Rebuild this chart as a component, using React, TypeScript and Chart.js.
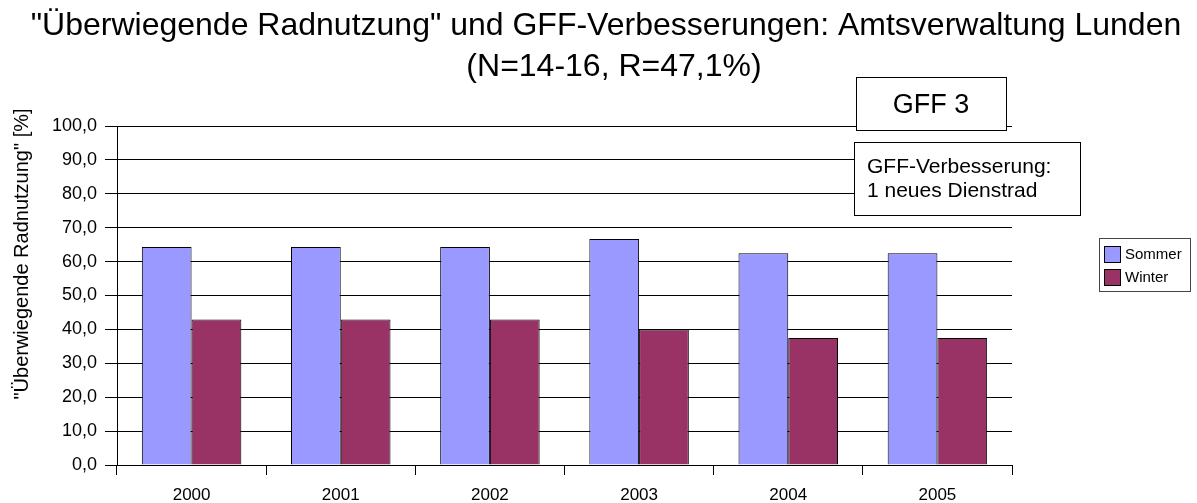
import React, { useEffect, useRef } from "react";
import { Chart, registerables } from "chart.js";

Chart.register(...registerables);

const years = ["2000", "2001", "2002", "2003", "2004", "2005"];
const sommer = [64.3, 64.3, 64.3, 66.7, 62.5, 62.5];
const winter = [42.9, 42.9, 42.9, 40.0, 37.5, 37.5];
const seriesNames = ["Sommer", "Winter"];
const seriesColors = ["#9999FF", "#993366"];
const titleLines = [
  "\"Überwiegende Radnutzung\" und GFF-Verbesserungen: Amtsverwaltung Lunden",
  "(N=14-16, R=47,1%)",
];
const yAxisTitle = "\"Überwiegende Radnutzung\" [%]";
const note1 = "GFF 3";
const note2 = ["GFF-Verbesserung:", "1 neues Dienstrad"];

const FONT = "'Liberation Sans', Arial, sans-serif";

const overlayPlugin = {
  id: "overlay",
  afterDraw(chart: any) {
    const ctx = chart.ctx as CanvasRenderingContext2D;
    ctx.save();
    // Title
    ctx.fillStyle = "#000";
    ctx.textAlign = "center";
    ctx.textBaseline = "alphabetic";
    ctx.font = `32px ${FONT}`;
    ctx.fillText(titleLines[0], 606, 35);
    ctx.fillText(titleLines[1], 614, 76);

    // Y axis title
    ctx.save();
    ctx.translate(28, 254);
    ctx.rotate(-Math.PI / 2);
    ctx.font = `20px ${FONT}`;
    ctx.textAlign = "center";
    ctx.fillText(yAxisTitle, 0, 0);
    ctx.restore();

    // Note box 1
    ctx.lineWidth = 1;
    ctx.strokeStyle = "#000";
    ctx.fillStyle = "#fff";
    ctx.fillRect(856, 77, 150, 53);
    ctx.strokeRect(856.5, 77.5, 150, 53);
    ctx.fillStyle = "#000";
    ctx.font = `27px ${FONT}`;
    ctx.textAlign = "center";
    ctx.fillText(note1, 931, 113);

    // Note box 2
    ctx.fillStyle = "#fff";
    ctx.fillRect(854, 142, 226, 73);
    ctx.strokeRect(854.5, 142.5, 226, 73);
    ctx.fillStyle = "#000";
    ctx.font = `21px ${FONT}`;
    ctx.textAlign = "left";
    ctx.fillText(note2[0], 867, 173);
    ctx.fillText(note2[1], 867, 197);

    // Legend
    ctx.fillStyle = "#fff";
    ctx.fillRect(1099, 238, 91, 53);
    ctx.strokeStyle = "#444";
    ctx.strokeRect(1099.5, 238.5, 91, 53);
    ctx.font = `15px ${FONT}`;
    ctx.textBaseline = "middle";
    const rows = [254, 277];
    seriesNames.forEach((name, i) => {
      ctx.fillStyle = seriesColors[i];
      ctx.fillRect(1104, rows[i] - 8, 16, 16);
      ctx.strokeStyle = "#000";
      ctx.strokeRect(1104.5, rows[i] - 7.5, 16, 16);
      ctx.fillStyle = "#000";
      ctx.fillText(name, 1125, rows[i] + 1);
    });
    ctx.restore();
  },
};

export default function App() {
  const ref = useRef<HTMLCanvasElement | null>(null);
  useEffect(() => {
    if (!ref.current) return;
    const chart = new Chart(ref.current, {
      type: "bar",
      data: {
        labels: years,
        datasets: [
          {
            label: seriesNames[0],
            data: sommer,
            backgroundColor: seriesColors[0],
            borderColor: "#000",
            borderWidth: 1,
          },
          {
            label: seriesNames[1],
            data: winter,
            backgroundColor: seriesColors[1],
            borderColor: "#000",
            borderWidth: 1,
          },
        ],
      },
      options: {
        responsive: false,
        animation: false,
        devicePixelRatio: 1,
        layout: { padding: { left: 0, top: 126, right: 185, bottom: 0 } },
        datasets: {
          bar: { categoryPercentage: 0.667, barPercentage: 1.0 },
        },
        plugins: {
          legend: { display: false },
          title: { display: false },
          tooltip: { enabled: false },
        },
        scales: {
          x: {
            grid: {
              offset: true,
              drawOnChartArea: false,
              drawTicks: true,
              tickLength: 10,
              color: "#000",
            },
            border: { color: "#000", width: 1 },
            ticks: {
              color: "#000",
              font: { family: FONT, size: 17 },
              padding: 10,
              maxRotation: 0,
            },
            afterFit(scale: any) {
              scale.height = 38;
            },
          },
          y: {
            min: 0,
            max: 100,
            grid: {
              color: "#000",
              lineWidth: 1,
              drawTicks: true,
              tickLength: 12,
            },
            border: { color: "#000", width: 1 },
            ticks: {
              stepSize: 10,
              color: "#000",
              font: { family: FONT, size: 18 },
              padding: 8,
              callback: (v: any) => Number(v).toFixed(1).replace(".", ","),
            },
            afterFit(scale: any) {
              scale.width = 117;
            },
          },
        },
      },
      plugins: [overlayPlugin],
    });
    return () => chart.destroy();
  }, []);
  return (
    <div style={{ position: "fixed", left: 0, top: 0, width: 1197, height: 503, background: "#fff" }}>
      <canvas ref={ref} width={1197} height={503} style={{ display: "block" }} />
    </div>
  );
}
